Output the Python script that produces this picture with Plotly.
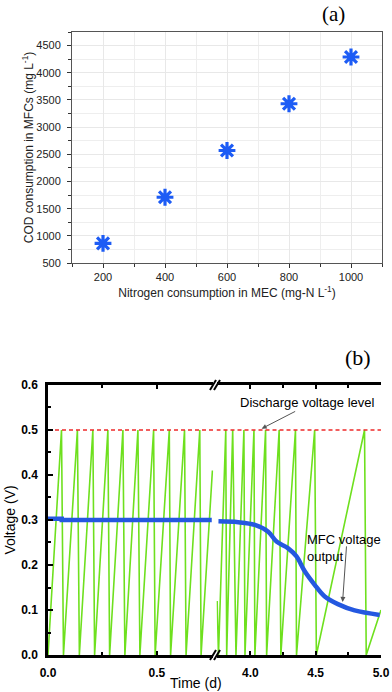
import plotly.graph_objects as go

# ---------------- data: panel (a) ----------------
nitrogen = [200, 400, 600, 800, 1000]
cod = [860, 1710, 2570, 3430, 4290]

# ---------------- data: panel (b) ----------------
saw_left_t = [0.0, 0.062, 0.071, 0.135, 0.144, 0.206, 0.214, 0.275, 0.283, 0.344, 0.353,
              0.413, 0.422, 0.485, 0.492, 0.557, 0.563, 0.627, 0.634, 0.697, 0.703, 0.755]
saw_left_v = [0.0, 0.5, 0.0, 0.5, 0.0, 0.5, 0.0, 0.5, 0.0, 0.5, 0.0,
              0.5, 0.0, 0.5, 0.0, 0.5, 0.0, 0.5, 0.0, 0.5, 0.0, 0.41]
saw_right_t = [3.745, 3.755, 3.811, 3.818, 3.864, 3.889, 3.950, 3.958, 4.027, 4.034, 4.116,
               4.124, 4.220, 4.233, 4.345, 4.353, 4.492, 4.505, 4.874, 4.887, 5.0]
saw_right_v = [0.12, 0.0, 0.5, 0.0, 0.5, 0.0, 0.5, 0.0, 0.5, 0.0, 0.5,
               0.0, 0.5, 0.0, 0.5, 0.0, 0.5, 0.0, 0.5, 0.0, 0.10]
mfc_left_t = [0.0, 0.063, 0.063, 0.752]
mfc_left_v = [0.303, 0.303, 0.300, 0.300]
mfc_right_t = [3.755, 3.907, 4.034, 4.136, 4.2, 4.289, 4.353, 4.416, 4.492, 4.569, 4.670, 4.798, 4.99]
mfc_right_v = [0.297, 0.295, 0.289, 0.274, 0.252, 0.237, 0.219, 0.186, 0.156, 0.130, 0.113, 0.099, 0.089]
discharge_level = 0.5
left_range = [0.0, 0.76]
right_range = [3.74, 5.0]
a_xrange = [100, 1100]
a_yrange = [500, 4750]

GREEN = "#6ee01e"
BLUE_B = "#2458e0"
BLUE_A = "#1d5cf5"
RED = "#ee2a2a"

fig = go.Figure()

# panel (a)
fig.add_trace(go.Scatter(x=nitrogen, y=cod, mode="markers", xaxis="x", yaxis="y",
                         marker=dict(symbol="asterisk-open", size=14, color=BLUE_A,
                                     line=dict(color=BLUE_A, width=3.2)),
                         showlegend=False))

# panel (b) left segment
fig.add_trace(go.Scatter(x=saw_left_t, y=saw_left_v, mode="lines", xaxis="x2", yaxis="y2",
                         line=dict(color=GREEN, width=1.6), showlegend=False))
fig.add_trace(go.Scatter(x=left_range, y=[discharge_level] * 2, mode="lines", xaxis="x2", yaxis="y2",
                         line=dict(color=RED, width=1.4, dash="4px,3px"), showlegend=False))
fig.add_trace(go.Scatter(x=mfc_left_t, y=mfc_left_v, mode="lines", xaxis="x2", yaxis="y2",
                         line=dict(color=BLUE_B, width=4.5), showlegend=False))
# panel (b) right segment
fig.add_trace(go.Scatter(x=saw_right_t, y=saw_right_v, mode="lines", xaxis="x3", yaxis="y2",
                         line=dict(color=GREEN, width=1.6), showlegend=False))
fig.add_trace(go.Scatter(x=right_range, y=[discharge_level] * 2, mode="lines", xaxis="x3", yaxis="y2",
                         line=dict(color=RED, width=1.4, dash="4px,3px"), showlegend=False))
fig.add_trace(go.Scatter(x=mfc_right_t, y=mfc_right_v, mode="lines", xaxis="x3", yaxis="y2",
                         line=dict(color=BLUE_B, width=4.5, shape="spline"), showlegend=False))

FA = "Liberation Sans, Arial, sans-serif"
tickfont_a = dict(family=FA, size=11, color="#222")
tickfont_b = dict(family=FA, size=12, color="#000", weight="bold")

dom_a_x = [0.0936, 1.0]
dom_a_y = [0.6292, 1.0]
dom_b_y = [0.0, 0.4334]

fig.update_layout(
    width=392, height=692,
    margin=dict(l=40, r=10, t=32, b=37),
    paper_bgcolor="white", plot_bgcolor="white",
    font=dict(family=FA, color="#000"),
    xaxis=dict(domain=dom_a_x, anchor="y", range=a_xrange, automargin=False,
               tickvals=[200, 400, 600, 800, 1000], ticks="outside", ticklen=4,
               tickcolor="#333", tickfont=tickfont_a,
               minor=dict(dtick=100, tick0=0, ticks="outside", ticklen=3, tickcolor="#333",
                          showgrid=True, gridcolor="#eeeeee"),
               showline=True, linecolor="#555", linewidth=1, mirror=True,
               showgrid=True, gridcolor="#e8e8e8", zeroline=False,
               title=dict(text="Nitrogen consumption in MEC (mg-N L<sup>-1</sup>)",
                          font=dict(family=FA, size=12, color="#222"), standoff=6)),
    yaxis=dict(domain=dom_a_y, anchor="x", range=a_yrange, dtick=500, tick0=500,
               automargin=False,
               ticks="outside", ticklen=4, tickcolor="#333", tickfont=tickfont_a,
               ticklabelstandoff=4,
               minor=dict(dtick=250, ticks="outside", ticklen=3, tickcolor="#333",
                          showgrid=True, gridcolor="#eeeeee"),
               showline=True, linecolor="#555", linewidth=1, mirror=True,
               showgrid=True, gridcolor="#e8e8e8", zeroline=False),
    # top / right inner ticks of panel (a)
    xaxis4=dict(domain=dom_a_x, anchor="y", overlaying="x", side="top", range=a_xrange,
                automargin=False, showticklabels=False, tickvals=[200, 400, 600, 800, 1000],
                ticks="inside", ticklen=4, tickcolor="#333",
                minor=dict(dtick=100, tick0=0, ticks="inside", ticklen=3, tickcolor="#333"),
                showgrid=False, zeroline=False, showline=False),
    yaxis4=dict(domain=dom_a_y, anchor="x", overlaying="y", side="right", range=a_yrange,
                automargin=False, showticklabels=False, dtick=500, tick0=500,
                ticks="inside", ticklen=4, tickcolor="#333",
                minor=dict(dtick=250, ticks="inside", ticklen=3, tickcolor="#333"),
                showgrid=False, zeroline=False, showline=False),
    xaxis2=dict(domain=[0.0234, 0.5073], anchor="y2", range=left_range, automargin=False,
                tickvals=[0.0, 0.5], ticktext=["0.0", "0.5"], ticks="inside", ticklen=4,
                tickwidth=2, tickcolor="#000", tickfont=tickfont_b, ticklabelstandoff=5,
                minor=dict(tickvals=[0.25], ticks="inside", ticklen=3, tickwidth=2, tickcolor="#000"),
                showline=True, linecolor="#000", linewidth=2.5, mirror="allticks",
                showgrid=False, zeroline=False),
    xaxis3=dict(domain=[0.5161, 0.997], anchor="y2", range=right_range, automargin=False,
                tickvals=[4.0, 4.5, 5.0], ticktext=["4.0", "4.5", "5.0"], ticks="inside", ticklen=4,
                tickwidth=2, tickcolor="#000", tickfont=tickfont_b, ticklabelstandoff=5,
                minor=dict(tickvals=[4.25, 4.75], ticks="inside", ticklen=3, tickwidth=2, tickcolor="#000"),
                showline=True, linecolor="#000", linewidth=2.5, mirror="allticks",
                showgrid=False, zeroline=False),
    yaxis2=dict(domain=dom_b_y, anchor="x2", range=[0, 0.6], dtick=0.1, tick0=0, automargin=False,
                tickformat=".1f", ticks="inside", ticklen=5, tickwidth=2, tickcolor="#000",
                tickfont=tickfont_b, ticklabelstandoff=5,
                minor=dict(dtick=0.05, ticks="inside", ticklen=3, tickwidth=2, tickcolor="#000"),
                showline=True, linecolor="#000", linewidth=2.5,
                showgrid=False, zeroline=False,
                title=dict(text="Voltage (V)", font=dict(family=FA, size=14), standoff=3)),
    yaxis3=dict(domain=dom_b_y, anchor="x3", side="right", overlaying="y2", matches="y2",
                automargin=False,
                range=[0, 0.6], dtick=0.1, tick0=0, showticklabels=False,
                ticks="inside", ticklen=5, tickwidth=2, tickcolor="#000",
                minor=dict(dtick=0.05, ticks="inside", ticklen=3, tickwidth=2, tickcolor="#000"),
                showline=True, linecolor="#000", linewidth=2.5,
                showgrid=False, zeroline=False),
)

annos = [
    dict(text="COD consumption in MFCs (mg L<sup>-1</sup>)", xref="paper", yref="paper",
         x=-0.036, y=(dom_a_y[0] + dom_a_y[1]) / 2, textangle=-90,
         xanchor="center", yanchor="middle", showarrow=False,
         font=dict(family=FA, size=12, color="#222")),
    dict(text="(a)", xref="paper", yref="paper", x=0.857, y=1.0514, xanchor="center",
         yanchor="top", showarrow=False,
         font=dict(family="Liberation Serif, Times New Roman, serif", size=21, color="#000")),
    dict(text="(b)", xref="paper", yref="paper", x=0.930, y=0.478, xanchor="center",
         yanchor="middle", showarrow=False,
         font=dict(family="Liberation Serif, Times New Roman, serif", size=22, color="#000")),
    dict(text="Time (d)", xref="paper", yref="paper", x=0.455, y=-0.045, xanchor="center",
         yanchor="middle", showarrow=False, font=dict(family=FA, size=14, color="#000")),
    dict(text="Discharge voltage level", xref="x3", yref="y2", x=3.905, y=0.56,
         xanchor="left", showarrow=False, font=dict(family=FA, size=13, color="#000")),
    dict(text="", xref="x3", yref="y2", x=4.086, y=0.503, ax=35, ay=-18,
         showarrow=True, arrowhead=2, arrowsize=1, arrowwidth=1, arrowcolor="#555"),
    dict(text="MFC voltage<br>output", xref="x3", yref="y2", x=4.418, y=0.237,
         xanchor="left", align="left", showarrow=False,
         font=dict(family=FA, size=13, color="#000")),
    dict(text="", xref="x3", yref="y2", x=4.706, y=0.118, ax=4, ay=-57,
         showarrow=True, arrowhead=2, arrowsize=1, arrowwidth=1, arrowcolor="#555"),
]
fig.update_layout(annotations=annos)

# axis break marks (//) on bottom and top of panel (b)
shapes = []
for yy in (dom_b_y[0], dom_b_y[1]):
    for off in (-2, 2):
        shapes.append(dict(type="line", xref="paper", yref="paper",
                           xsizemode="pixel", ysizemode="pixel",
                           xanchor=0.5117, yanchor=yy,
                           x0=off - 3, x1=off + 3, y0=-5, y1=5,
                           line=dict(color="#000", width=2)))
fig.update_layout(shapes=shapes)

fig.write_html("out.html", config={"displayModeBar": False},
               post_script="document.body.style.margin='0';document.body.style.overflow='hidden';")
